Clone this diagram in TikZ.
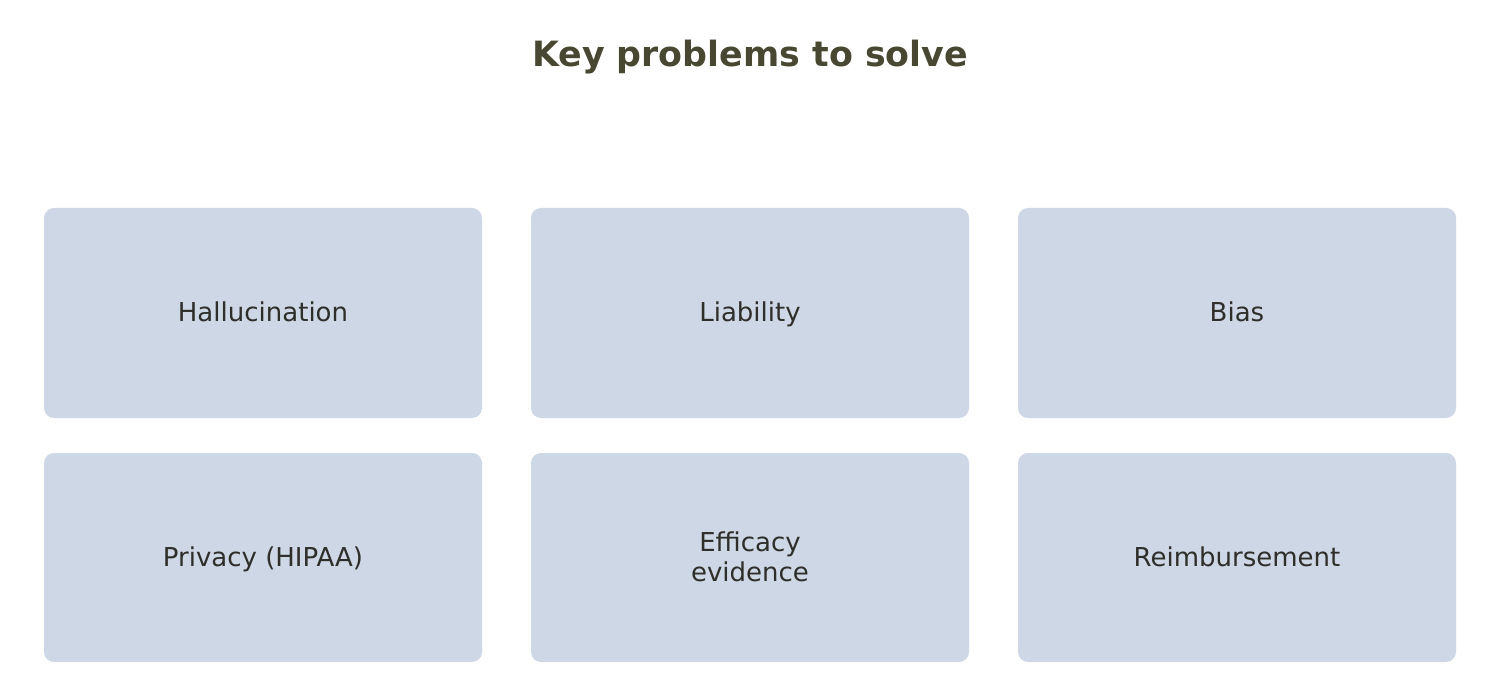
\documentclass[tikz,border=0pt]{standalone}
\usepackage{fontspec}
\setmainfont{DejaVu Sans}
\definecolor{titlecol}{HTML}{484832}
\definecolor{boxfill}{HTML}{CED7E5}
\definecolor{textcol}{HTML}{2E2E2A}
\tikzset{
  card/.style={fill=boxfill, draw=none, rounded corners=10pt},
  cardlabel/.style={text=textcol, font=\fontsize{26}{30}\selectfont, align=center, inner sep=0pt, anchor=base},
  titlelabel/.style={text=titlecol, font=\fontsize{34.8}{40}\bfseries\selectfont, inner sep=0pt, anchor=base}
}
\begin{document}
\begin{tikzpicture}[x=1pt,y=-1pt]
\useasboundingbox[fill=white] (0,0) rectangle (1499,700);
\node[titlelabel] (title) at (750,66.5) {Key problems to solve};
\foreach \c/\xa in {1/44,2/531,3/1018}{
  \fill[card] (\xa,208) rectangle ++(438,210);
  \fill[card] (\xa,453) rectangle ++(438,209);
}
\node[cardlabel] (h) at (263,322) {Hallucination};
\node[cardlabel] (l) at (750,322) {Liability};
\node[cardlabel] (b) at (1237,322) {Bias};
\node[cardlabel] (p) at (263,566.5) {Privacy (HIPAA)};
\node[cardlabel] (r) at (1237,566.5) {Reimbursement};
\node[cardlabel, anchor=north] (e) at (750,530.5) {\strut Efficacy\\evidence};
\end{tikzpicture}
\end{document}
